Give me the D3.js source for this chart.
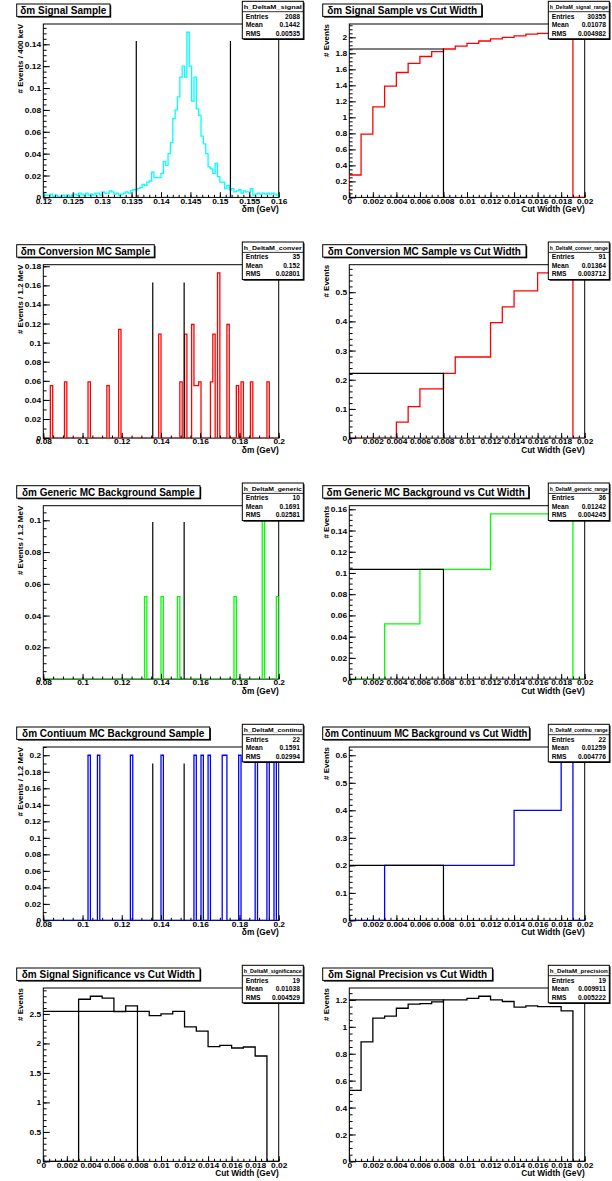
<!DOCTYPE html>
<html>
<head>
<meta charset="utf-8">
<script src="https://cdn.jsdelivr.net/npm/d3@7"></script>
<style>
  body { margin: 0; background: #fff; }
  text { font-family: "Liberation Sans", Arial, Helvetica, sans-serif; font-weight: bold; fill: #000; }
  .tick text { font-size: 7px; }
  .tick line { stroke: #000; }
</style>
</head>
<body>
<svg id="chart" width="612" height="1181"></svg>
<script>
// ---- values ----
var titles = [
  "δm Signal Sample", "δm Signal Sample vs Cut Width",
  "δm Conversion MC Sample", "δm Conversion MC Sample vs Cut Width",
  "δm Generic MC Background Sample", "δm Generic MC Background vs Cut Width",
  "δm Contiuum MC Background Sample", "δm Continuum MC Background vs Cut Width",
  "δm Signal Significance vs Cut Width", "δm Signal Precision vs Cut Width"
];
var statNames = ["h_DeltaM_signal", "h_DeltaM_signal_range", "h_DeltaM_conver", "h_DeltaM_conver_range",
  "h_DeltaM_generic", "h_DeltaM_generic_range", "h_DeltaM_continu", "h_DeltaM_continu_range",
  "h_DeltaM_significance", "h_DeltaM_precision"];
var statEntries = ["2088", "30355", "35", "91", "10", "36", "22", "22", "19", "19"];
var statMeans = ["0.1442", "0.01078", "0.152", "0.01364", "0.1691", "0.01242", "0.1591", "0.01259", "0.01038", "0.009911"];
var statRms = ["0.00535", "0.004982", "0.02801", "0.003712", "0.02581", "0.004245", "0.02994", "0.004776", "0.004529", "0.005222"];

var xTitles = ["δm (GeV)", "Cut Width (GeV)", "δm (GeV)", "Cut Width (GeV)", "δm (GeV)", "Cut Width (GeV)",
  "δm (GeV)", "Cut Width (GeV)", "Cut Width (GeV)", "Cut Width (GeV)"];
var yTitles = ["# Events / 400 keV", "# Events", "# Events / 1.2 MeV", "# Events", "# Events / 1.2 MeV", "# Events",
  "# Events / 1.2 MeV", "# Events", "# Events", "# Events"];

// x tick labels
var signalMassTicks = [0.12, 0.125, 0.13, 0.135, 0.14, 0.145, 0.15, 0.155, 0.16];
var massTicks = [0.08, 0.1, 0.12, 0.14, 0.16, 0.18, 0.2];
var cutTicks = [0, 0.002, 0.004, 0.006, 0.008, 0.01, 0.012, 0.014, 0.016, 0.018, 0.02];

// y tick labels, one list per panel
var yTicks = [
  [0, 0.02, 0.04, 0.06, 0.08, 0.1, 0.12, 0.14],
  [0, 0.2, 0.4, 0.6, 0.8, 1, 1.2, 1.4, 1.6, 1.8, 2],
  [0, 0.02, 0.04, 0.06, 0.08, 0.1, 0.12, 0.14, 0.16, 0.18],
  [0, 0.1, 0.2, 0.3, 0.4, 0.5],
  [0, 0.02, 0.04, 0.06, 0.08, 0.1],
  [0, 0.02, 0.04, 0.06, 0.08, 0.1, 0.12, 0.14, 0.16],
  [0, 0.02, 0.04, 0.06, 0.08, 0.1, 0.12, 0.14, 0.16, 0.18, 0.2],
  [0, 0.1, 0.2, 0.3, 0.4, 0.5, 0.6],
  [0, 0.5, 1, 1.5, 2, 2.5],
  [0, 0.2, 0.4, 0.6, 0.8, 1, 1.2]
];

// signal dm histogram, 100 bins of 400 keV from 0.12
var signalCounts = [
  0.003, 0.002, 0.002, 0.003, 0.001, 0.002, 0.001, 0.001, 0.002, 0.001,
  0.002, 0.001, 0.002, 0.003, 0.002, 0.004, 0.003, 0.002, 0.004, 0.002,
  0.003, 0.002, 0.004, 0.004, 0.002, 0.005, 0.004, 0.004, 0.006, 0.005,
  0.003, 0.004, 0.002, 0.003, 0.004, 0.005, 0.004, 0.006, 0.007, 0.007,
  0.008, 0.009, 0.012, 0.011, 0.014, 0.015, 0.023, 0.018, 0.018, 0.018,
  0.022, 0.033, 0.029, 0.040, 0.050, 0.072, 0.080, 0.092, 0.110, 0.120,
  0.110, 0.151, 0.120, 0.088, 0.110, 0.081, 0.075, 0.056, 0.049, 0.040,
  0.028, 0.026, 0.022, 0.031, 0.019, 0.014, 0.014, 0.008, 0.011, 0.007,
  0.008, 0.005, 0.006, 0.007, 0.004, 0.006, 0.005, 0.005, 0.008, 0.002,
  0.003, 0.004, 0.003, 0.004, 0.003, 0.004, 0.003, 0.004, 0.003, 0.002
];
// MC dm histograms, 100 bins of 1.2 MeV from 0.08: [bin, content] of filled bins
var conversionBins = [[3, 0.055], [9, 0.059], [19, 0.059], [27, 0.055], [32, 0.114], [49, 0.109],
  [58, 0.059], [60, 0.109], [63, 0.119], [64, 0.055], [65, 0.055], [66, 0.059], [71, 0.059],
  [72, 0.109], [74, 0.173], [78, 0.119], [82, 0.055], [84, 0.059], [88, 0.059], [95, 0.059]];
var genericBins = [[43, 0.052], [50, 0.052], [57, 0.052], [81, 0.052], [93, 0.104], [99, 0.052]];
var continuumBins = [[19, 0.2], [23, 0.2], [37, 0.2], [50, 0.2], [64, 0.2], [67, 0.2], [70, 0.2],
  [76, 0.2], [77, 0.2], [83, 0.2], [90, 0.2], [95, 0.2], [98, 0.2]];

// vs cut width, 20 bins of 1 MeV from 0
var signalRange = [0.28, 0.79, 1.13, 1.39, 1.56, 1.675, 1.76, 1.82, 1.854, 1.89, 1.925, 1.954, 1.98, 2.0, 2.017, 2.04, 2.05, 2.058, 2.063, 0];
var conversionRange = [0, 0, 0, 0, 0.0547, 0.108, 0.1686, 0.1686, 0.222, 0.278, 0.278, 0.278, 0.396, 0.45, 0.5046, 0.5046, 0.566, 0.566, 0.566, 0];
var genericRange = [0, 0, 0, 0.052, 0.052, 0.052, 0.1033, 0.1033, 0.1033, 0.1033, 0.1033, 0.1033, 0.1556, 0.1556, 0.1556, 0.1556, 0.1556, 0.1556, 0.1556, 0];
var continuumRange = [0, 0, 0, 0.2, 0.2, 0.2, 0.2, 0.2, 0.2, 0.2, 0.2, 0.2, 0.2, 0.2, 0.4, 0.4, 0.4, 0.4, 0.6, 0];
var significance = [0, 0, 0, 2.749, 2.8, 2.77, 2.54, 2.636, 2.545, 2.47, 2.5, 2.545, 2.28, 2.21, 1.946, 1.968, 1.923, 1.94, 1.787, 0];
var precision = [0.528, 0.888, 1.064, 1.079, 1.138, 1.168, 1.173, 1.185, 1.2, 1.2, 1.212, 1.227, 1.2, 1.188, 1.146, 1.155, 1.15, 1.15, 1.118, 0];

// cut window on dm and the chosen cut width
var massCuts = [0.1358, 0.1518];
var massCutHeights = [0.143, 0.163, 0.099, 0.19];
var chosenWidth = 0.008;

// ---- layout ----
var frameLeft = [43.3, 349.3], frameW = 235.4, frameH = 173.4;
var frameTop = [24, 264.7, 505.7, 747, 988];
var titleWidths = [93.3, 159, 137.6, 203.3, 183.3, 206, 193, 206.7, 183.3, 169.7];
var colors = ["#00ffff", "#ff0000", "#ff0000", "#ff0000", "#00ff00", "#00ff00", "#0000ff", "#0000ff", "#000", "#000"];
var xSubs = [5, 4, 4, 4, 4, 4, 4, 4, 4, 4];
var ySubs = [4, 4, 2, 5, 4, 4, 2, 5, 5, 4];

function expand(pairs, n) {
  var a = d3.range(n).map(function() { return 0; });
  pairs.forEach(function(p) { a[p[0]] = p[1]; });
  return a;
}

var series = [
  {values: signalCounts, x0: 0.12, bw: 0.0004, xTicks: signalMassTicks},
  {values: signalRange, x0: 0, bw: 0.001, xTicks: cutTicks},
  {values: expand(conversionBins, 100), x0: 0.08, bw: 0.0012, xTicks: massTicks},
  {values: conversionRange, x0: 0, bw: 0.001, xTicks: cutTicks},
  {values: expand(genericBins, 100), x0: 0.08, bw: 0.0012, xTicks: massTicks},
  {values: genericRange, x0: 0, bw: 0.001, xTicks: cutTicks},
  {values: expand(continuumBins, 100), x0: 0.08, bw: 0.0012, xTicks: massTicks},
  {values: continuumRange, x0: 0, bw: 0.001, xTicks: cutTicks},
  {values: significance, x0: 0, bw: 0.001, xTicks: cutTicks},
  {values: precision, x0: 0, bw: 0.001, xTicks: cutTicks}
];

var fmt = function(d) { return String(+d.toFixed(6)); };

function minorValues(ticks, sub, max) {
  var step = (ticks[1] - ticks[0]) / sub, out = [];
  for (var k = 0; ticks[0] + k * step <= max + step * 1e-3; k++) out.push(ticks[0] + k * step);
  return out;
}

var svg = d3.select("#chart");
svg.append("rect").attr("width", 612).attr("height", 1181).attr("fill", "#fff");

series.forEach(function(s, i) {
  var col = i % 2, row = Math.floor(i / 2);
  var L = frameLeft[col], T = frameTop[row], R = L + frameW, B = T + frameH;
  var xmax = s.xTicks[s.xTicks.length - 1];
  var x = d3.scaleLinear().domain([s.xTicks[0], xmax]).range([L, R]);
  var ymax = d3.max(s.values) * 1.05;
  var y = d3.scaleLinear().domain([0, ymax]).range([B, T]);
  var g = svg.append("g");

  g.append("rect").attr("x", L).attr("y", T).attr("width", frameW).attr("height", frameH)
    .attr("fill", "#fff").attr("stroke", "#000").attr("stroke-width", 1);

  g.append("clipPath").attr("id", "clip" + i).append("rect")
    .attr("x", L).attr("y", T).attr("width", frameW).attr("height", frameH);

  // histogram outline
  var pts = [[s.x0, 0]];
  s.values.forEach(function(v, k) {
    pts.push([s.x0 + k * s.bw, v]);
    pts.push([s.x0 + (k + 1) * s.bw, v]);
  });
  pts.push([s.x0 + s.values.length * s.bw, 0]);
  g.append("path").attr("clip-path", "url(#clip" + i + ")")
    .attr("d", d3.line().x(function(d) { return x(d[0]); }).y(function(d) { return y(d[1]); })(pts))
    .attr("fill", "none").attr("stroke", colors[i]).attr("stroke-width", 1.3);

  // cut markers
  if (col === 0 && row < 4) {
    g.selectAll(".cut").data(massCuts).enter().append("line")
      .attr("x1", function(d) { return x(d); }).attr("x2", function(d) { return x(d); })
      .attr("y1", y(0)).attr("y2", y(massCutHeights[row]))
      .attr("stroke", "#000").attr("stroke-width", 1.2);
  } else {
    var level = s.values[Math.round(chosenWidth / s.bw)];
    g.append("path")
      .attr("d", d3.line()([[x(0), y(level)], [x(chosenWidth), y(level)], [x(chosenWidth), y(0)]]))
      .attr("fill", "none").attr("stroke", "#000").attr("stroke-width", 1.2);
  }

  // axes: ticks point into the frame
  var xm = g.append("g").attr("transform", "translate(0," + B + ")")
    .call(d3.axisBottom(x).tickValues(minorValues(s.xTicks, xSubs[i], xmax)).tickSize(-2.6).tickFormat(""));
  var xa = g.append("g").attr("transform", "translate(0," + B + ")")
    .call(d3.axisBottom(x).tickValues(s.xTicks).tickSize(-5.2).tickPadding(1.3).tickFormat(fmt));
  var ym = g.append("g").attr("transform", "translate(" + L + ",0)")
    .call(d3.axisLeft(y).tickValues(minorValues(yTicks[i], ySubs[i], ymax)).tickSize(-3.3).tickFormat(""));
  var ya = g.append("g").attr("transform", "translate(" + L + ",0)")
    .call(d3.axisLeft(y).tickValues(yTicks[i]).tickSize(-6.5).tickPadding(1.8).tickFormat(fmt));
  [xm, xa, ym, ya].forEach(function(a) { a.select(".domain").remove(); });
  xa.selectAll("text").attr("transform", "scale(1.2,1)");
  ya.selectAll("text").attr("transform", "scale(1.2,1)").attr("dy", "0.36em");

  // axis titles
  g.append("text").attr("x", R).attr("y", B + 15).attr("text-anchor", "end")
    .attr("font-size", 8.3).text(xTitles[i]);
  g.append("text").attr("transform", "translate(" + (L - 20) + "," + T + ") rotate(-90)")
    .attr("text-anchor", "end").attr("font-size", 8).text(yTitles[i]);

  // stats box
  var sx = R - 36.4, sy = T - 22.7, sw = 61, sh = 37.5;
  g.append("rect").attr("x", sx + 1.2).attr("y", sy + 1.2).attr("width", sw).attr("height", sh).attr("fill", "#000");
  g.append("rect").attr("x", sx).attr("y", sy).attr("width", sw).attr("height", sh)
    .attr("fill", "#fff").attr("stroke", "#000").attr("stroke-width", 1);
  g.append("line").attr("x1", sx).attr("x2", sx + sw).attr("y1", sy + 10.4).attr("y2", sy + 10.4)
    .attr("stroke", "#000").attr("stroke-width", 0.8);
  var name = g.append("text")
    .attr("x", sx + sw / 2).attr("y", sy + 8).attr("text-anchor", "middle")
    .attr("font-size", 6).text(statNames[i]);
  var nl = name.node().getComputedTextLength() * 1.3;
  name.attr("textLength", Math.min(nl, sw - 3)).attr("lengthAdjust", "spacingAndGlyphs");
  var rows = [["Entries", statEntries[i]], ["Mean", statMeans[i]], ["RMS", statRms[i]]];
  var rowY = [17.4, 25.6, 34.4];
  rows.forEach(function(r, k) {
    g.append("text").attr("x", sx + 3.4).attr("y", sy + rowY[k]).attr("font-size", 6.7).text(r[0]);
    g.append("text").attr("x", sx + sw - 3.4).attr("y", sy + rowY[k]).attr("text-anchor", "end")
      .attr("font-size", 6.7).text(r[1]);
  });

  // title box
  var tx = L - 26.6, ty = T - 20, th = 12.4;
  g.append("rect").attr("x", tx + 1.2).attr("y", ty + 1.2).attr("width", titleWidths[i]).attr("height", th).attr("fill", "#000");
  g.append("rect").attr("x", tx).attr("y", ty).attr("width", titleWidths[i]).attr("height", th)
    .attr("fill", "#fff").attr("stroke", "#000").attr("stroke-width", 1);
  var tt = g.append("text").attr("x", tx + titleWidths[i] / 2).attr("y", ty + 9.8).attr("text-anchor", "middle")
    .attr("font-size", 10).text(titles[i]);
  var tl = tt.node().getComputedTextLength();
  if (tl > titleWidths[i] - 4) tt.attr("textLength", titleWidths[i] - 4).attr("lengthAdjust", "spacingAndGlyphs");
});
</script>
</body>
</html>
